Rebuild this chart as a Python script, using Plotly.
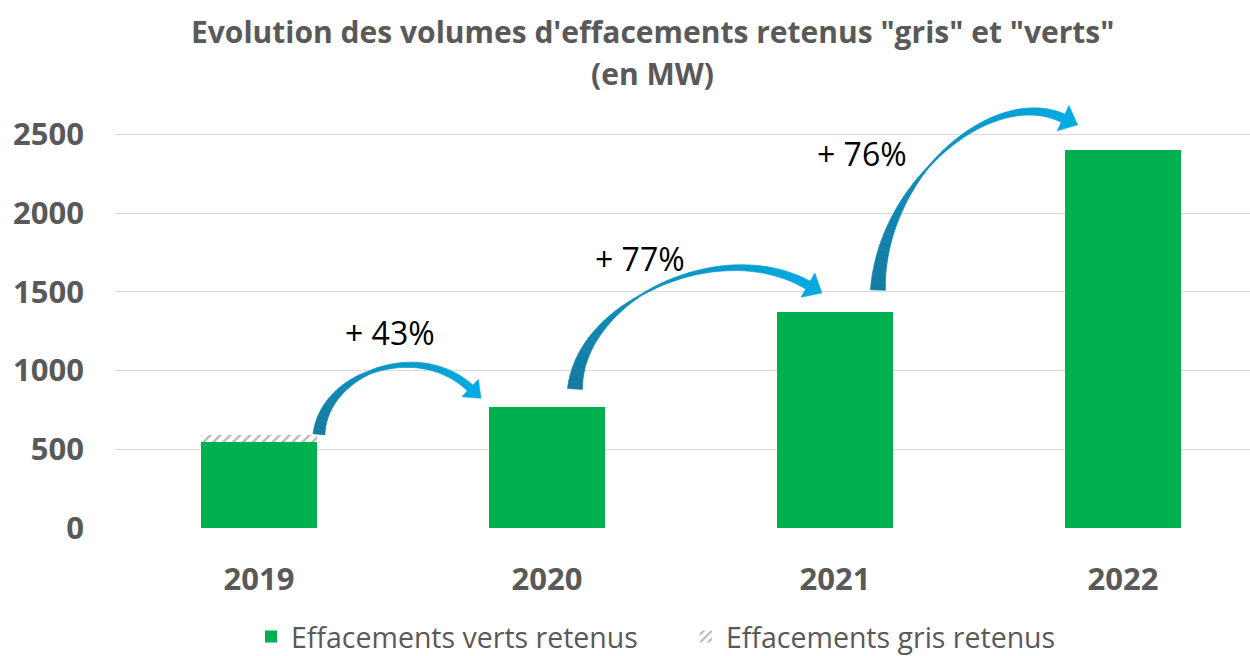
import plotly.graph_objects as go

# ---------------- data ----------------
years = ["2019", "2020", "2021", "2022"]
verts = [545, 770, 1370, 2400]
gris = [45, 0, 0, 0]
growth_labels = ["+ 43%", "+ 77%", "+ 76%"]

# ---------------- layout constants ----------------
WIDTH, HEIGHT = 1250, 656
ML, MR, MT, MB = 115, 0, 95, 128
PW, PH = WIDTH - ML - MR, HEIGHT - MT - MB
CAT_PX = 288.0
XR = [-0.5, -0.5 + PW / CAT_PX]
YR = [0, 2750]

GREEN = "#00b050"
GREY_TXT = "#595959"
FONT = "Open Sans"


def px_to_data(px, py):
    x = XR[0] + (px - ML) / PW * (XR[1] - XR[0])
    y = YR[0] + (MT + PH - py) / PH * (YR[1] - YR[0])
    return x, y


def data_to_px(x, y):
    px = ML + (x - XR[0]) / (XR[1] - XR[0]) * PW
    py = MT + PH - (y - YR[0]) / (YR[1] - YR[0]) * PH
    return px, py


def hex_to_rgb(h):
    h = h.lstrip("#")
    return tuple(int(h[i:i + 2], 16) for i in (0, 2, 4))


def mix(c0, c1, t):
    a, b = hex_to_rgb(c0), hex_to_rgb(c1)
    return "rgb(%d,%d,%d)" % tuple(round(a[i] + (b[i] - a[i]) * t) for i in range(3))


def cubic(P, t):
    mt = 1 - t
    x = mt**3 * P[0][0] + 3 * mt**2 * t * P[1][0] + 3 * mt * t**2 * P[2][0] + t**3 * P[3][0]
    y = mt**3 * P[0][1] + 3 * mt**2 * t * P[1][1] + 3 * mt * t**2 * P[2][1] + t**3 * P[3][1]
    return x, y


def cubic_d(P, t):
    mt = 1 - t
    dx = 3 * mt**2 * (P[1][0] - P[0][0]) + 6 * mt * t * (P[2][0] - P[1][0]) + 3 * t**2 * (P[3][0] - P[2][0])
    dy = 3 * mt**2 * (P[1][1] - P[0][1]) + 6 * mt * t * (P[2][1] - P[1][1]) + 3 * t**2 * (P[3][1] - P[2][1])
    n = (dx * dx + dy * dy) ** 0.5
    return dx / n, dy / n


def path_from_px(pts):
    d = []
    for i, (px, py) in enumerate(pts):
        x, y = px_to_data(px, py)
        d.append(("M" if i == 0 else "L") + "%.5f,%.3f" % (x, y))
    return " ".join(d) + " Z"


# curved arrows (decoration): control points given in data coordinates
arrows = [
    dict(P=[(0.208, 595), (0.229, 1000), (0.559, 1190), (0.733, 889)],
         w0=12, wm=3.5, w1=8, tm=0.45, hw=12, hl=15),
    dict(P=[(1.097, 883), (1.115, 1448), (1.601, 1860), (1.906, 1543)],
         w0=15, wm=1.5, w1=9, tm=0.42, hw=14, hl=16),
    dict(P=[(2.149, 1511), (2.160, 2210), (2.542, 2813), (2.792, 2603)],
         w0=15, wm=1.5, w1=9, tm=0.42, hw=14, hl=16),
]
C_TAIL, C_HEAD = "#147aa2", "#03a9e0"

shapes = []
N = 40
for a in arrows:
    P = [data_to_px(*p) for p in a["P"]]

    def width(t):
        if t < a["tm"]:
            return a["w0"] + (a["wm"] - a["w0"]) * t / a["tm"]
        return a["wm"] + (a["w1"] - a["wm"]) * (t - a["tm"]) / (1 - a["tm"])

    for i in range(N):
        t0, t1 = i / N, (i + 1) / N
        (x0, y0), (x1, y1) = cubic(P, t0), cubic(P, t1)
        u0, u1 = cubic_d(P, t0), cubic_d(P, t1)
        n0, n1 = (-u0[1], u0[0]), (-u1[1], u1[0])
        h0, h1 = width(t0) / 2, width(t1) / 2
        pts = [(x0 + n0[0] * h0, y0 + n0[1] * h0), (x1 + n1[0] * h1, y1 + n1[1] * h1),
               (x1 - n1[0] * h1, y1 - n1[1] * h1), (x0 - n0[0] * h0, y0 - n0[1] * h0)]
        col = mix(C_TAIL, C_HEAD, (t0 + t1) / 2)
        shapes.append(dict(type="path", xref="x", yref="y", path=path_from_px(pts),
                           fillcolor=col, line=dict(color=col, width=0.6), layer="above"))
    ex, ey = cubic(P, 1.0)
    u = cubic_d(P, 1.0)
    n = (-u[1], u[0])
    hw, hl = a["hw"], a["hl"]
    pts = [(ex + n[0] * hw, ey + n[1] * hw), (ex + u[0] * hl, ey + u[1] * hl),
           (ex - n[0] * hw, ey - n[1] * hw)]
    shapes.append(dict(type="path", xref="x", yref="y", path=path_from_px(pts),
                       fillcolor=C_HEAD, line=dict(color=C_HEAD, width=0.6), layer="above"))

# ---------------- figure ----------------
xpos = list(range(len(years)))
fig = go.Figure()
fig.add_trace(go.Bar(
    x=xpos, y=verts, name="Effacements verts retenus", width=0.4,
    marker=dict(color=GREEN, line=dict(width=0)),
))
fig.add_trace(go.Bar(
    x=xpos, y=gris, name="Effacements gris retenus", width=0.4,
    marker=dict(color="white", line=dict(width=0),
                pattern=dict(shape="/", fgcolor="#6f6f6f", bgcolor="white",
                             size=7, solidity=0.35)),
))

annotations = [
    dict(text='Evolution des volumes d\'effacements retenus "gris" et "verts"',
         xref="paper", yref="paper", x=(652 - ML) / PW, y=(MT + PH - 31) / PH,
         xanchor="center", yanchor="middle", showarrow=False,
         font=dict(family=FONT, size=30, color=GREY_TXT, weight="bold")),
    dict(text="(en MW)",
         xref="paper", yref="paper", x=(652 - ML) / PW, y=(MT + PH - 73) / PH,
         xanchor="center", yanchor="middle", showarrow=False,
         font=dict(family=FONT, size=30, color=GREY_TXT, weight="bold")),
]
label_pos = [(0.455, 1244), (1.323, 1714), (2.094, 2381)]
for (lx, ly), txt in zip(label_pos, growth_labels):
    annotations.append(dict(text=txt, x=lx, y=ly, xref="x", yref="y",
                            showarrow=False, xanchor="center", yanchor="middle",
                            font=dict(family=FONT, size=32, color="black")))

fig.update_layout(
    width=WIDTH, height=HEIGHT,
    margin=dict(l=ML, r=MR, t=MT, b=MB, pad=0, autoexpand=False),
    barmode="stack",
    plot_bgcolor="white", paper_bgcolor="white",
    font=dict(family=FONT, color=GREY_TXT),
    showlegend=True,
    legend=dict(orientation="h", x=686 / WIDTH, xref="container", xanchor="center",
                y=1 - 637 / HEIGHT, yref="container", yanchor="middle",
                font=dict(family=FONT, size=28.5, color=GREY_TXT),
                traceorder="normal", itemwidth=30, entrywidth=390,
                entrywidthmode="pixels", bgcolor="rgba(0,0,0,0)"),
    xaxis=dict(range=XR, tickmode="array", tickvals=xpos, ticktext=years,
               showgrid=False, zeroline=False, showline=False, ticks="",
               ticklabelstandoff=30, automargin=False,
               tickfont=dict(family=FONT, size=31, color=GREY_TXT, weight="bold")),
    yaxis=dict(range=YR, dtick=500, tick0=0, showgrid=True, gridcolor="#d9d9d9",
               gridwidth=1.3, zeroline=False, showline=False, ticks="",
               ticklabelstandoff=30, automargin=False,
               tickfont=dict(family=FONT, size=31, color=GREY_TXT, weight="bold")),
    annotations=annotations,
    shapes=shapes,
)

fig.write_html("out.html")
